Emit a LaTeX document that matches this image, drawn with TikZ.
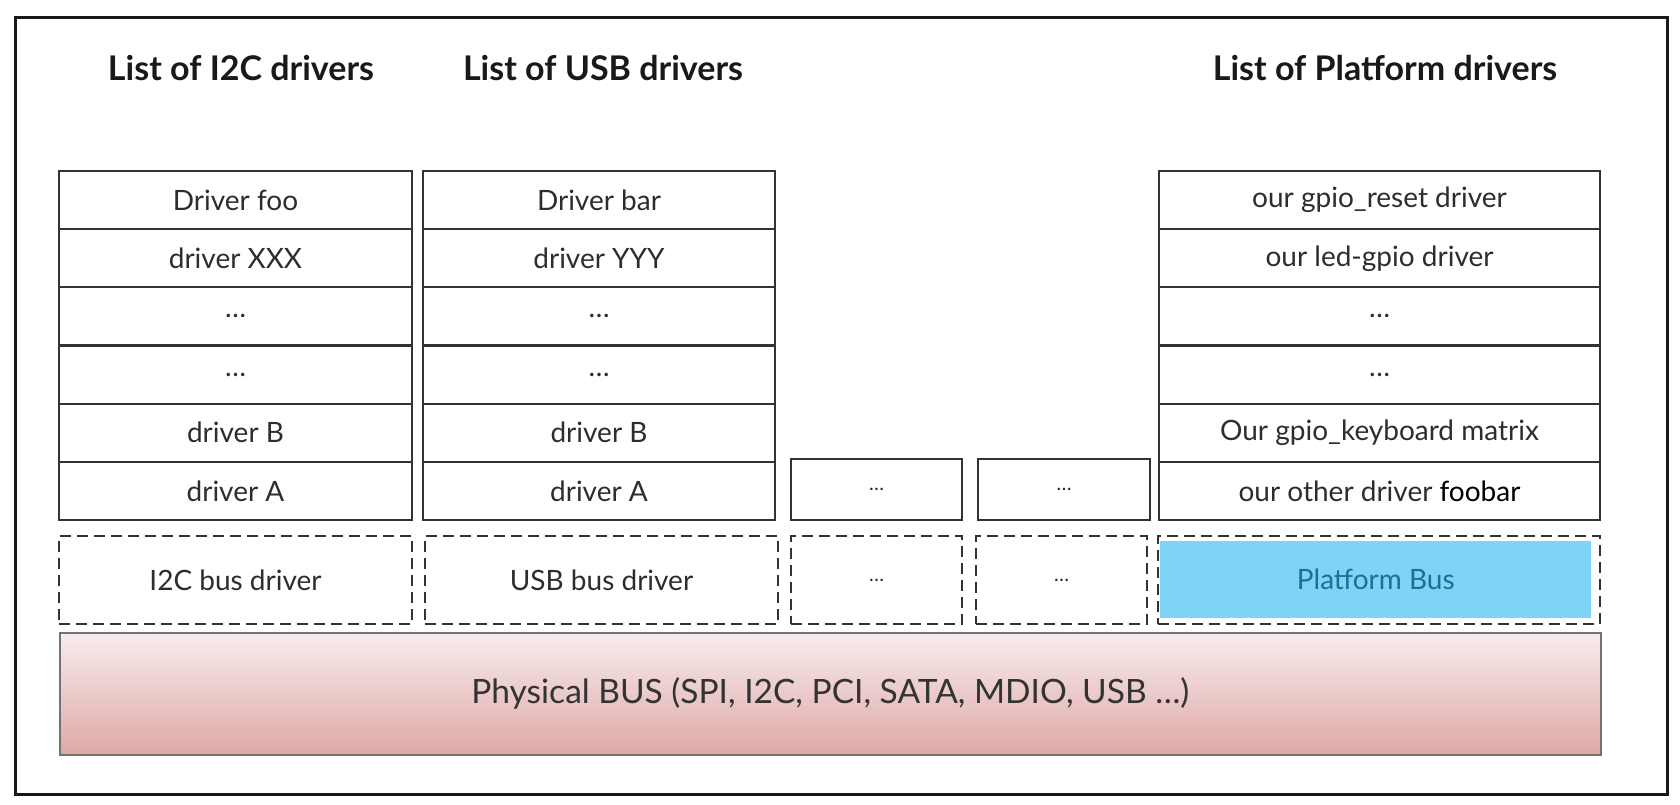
\documentclass[tikz,border=0pt]{standalone}
\usepackage{fontspec}
\setmainfont{Lato}
\definecolor{txt}{RGB}{45,45,45}
\definecolor{pbus}{RGB}{125,212,245}
\definecolor{pbustxt}{RGB}{30,110,150}
\definecolor{phytop}{RGB}{248,236,238}
\definecolor{phybot}{RGB}{222,168,166}
\begin{document}
\begin{tikzpicture}[x=1pt,y=-1pt,
  base/.style={anchor=north west, inner sep=0pt, outer sep=0pt, text=txt, font=\fontsize{28}{32}\selectfont},
  cell/.style={base, draw=black!80, line width=2.2pt, minimum height=58.17pt},
  dbox/.style={base, draw=black!80, line width=2.2pt, dash pattern=on 11pt off 6pt, minimum height=88pt},
  smalldots/.style={font=\fontsize{20}{24}\selectfont},
  title/.style={inner sep=0pt, text=black!90, font=\fontsize{34}{40}\selectfont\bfseries}]
\useasboundingbox (0,0) rectangle (1680,805);
\node[anchor=north west, draw=black!90, line width=3pt, minimum width=1652pt, minimum height=777pt, inner sep=0pt] (frame) at (14,16) {};

\node[title] (t1) at (241,68) {List of I2C drivers};
\node[title] (t2) at (603,68) {List of USB drivers};
\node[title] (t3) at (1385,68) {List of Platform drivers};

% I2C column
\foreach \i/\t in {0/Driver foo,1/driver XXX,2/{…},3/{…},4/driver B,5/driver A}
  \node[cell, minimum width=353pt] (i\i) at (59,171+58.17*\i) {\t};
% USB column
\foreach \i/\t in {0/Driver bar,1/driver YYY,2/{…},3/{…},4/driver B,5/driver A}
  \node[cell, minimum width=352pt] (u\i) at (423,171+58.17*\i) {\t};
% Platform column
\foreach \i/\t in {0/our gpio\_reset driver,1/our led-gpio driver,2/{…},3/{…},4/Our gpio\_keyboard matrix,5/our other driver {\color{black}foobar}}
  \node[cell, minimum width=441pt] (p\i) at (1159,171+58.17*\i) {\t};

% small boxes
\node[cell, smalldots, minimum width=171pt, minimum height=61pt] (s1) at (791,459) {…};
\node[cell, smalldots, minimum width=172pt, minimum height=61pt] (s2) at (978,459) {…};

% bus drivers
\node[dbox, minimum width=353pt] (bi) at (59,536) {I2C bus driver};
\node[dbox, minimum width=353pt] (bu) at (425,536) {USB bus driver};
\node[dbox, smalldots, minimum width=171pt] (b1) at (791,536) {…};
\node[dbox, smalldots, minimum width=171pt] (b2) at (976,536) {…};
\node[dbox, minimum width=442pt] (bp) at (1158,536) {};
\node[anchor=north west, fill=pbus, minimum width=431pt, minimum height=77pt, inner sep=0pt, text=pbustxt, font=\fontsize{28}{32}\selectfont] (pb) at (1160,541) {Platform Bus};

% physical bus
\node[anchor=north west, draw=black!55, line width=1.5pt, minimum width=1541pt, minimum height=122pt, inner sep=0pt, top color=phytop, bottom color=phybot, text=black!80, font=\fontsize{33.5}{38}\selectfont] (phy) at (59,632) {Physical BUS (SPI, I2C, PCI, SATA, MDIO, USB …)};
\end{tikzpicture}
\end{document}
